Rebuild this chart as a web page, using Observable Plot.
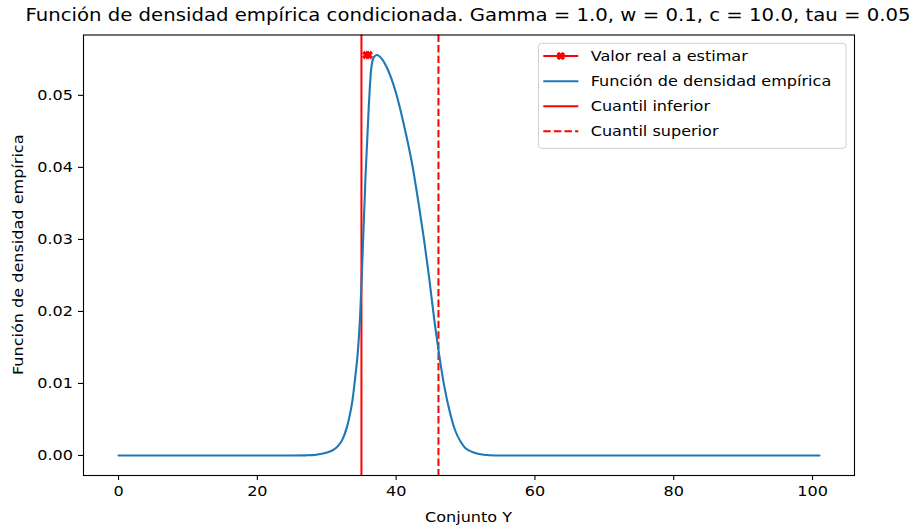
<!DOCTYPE html>
<html>
<head>
<meta charset="utf-8">
<script src="https://cdn.jsdelivr.net/npm/d3@7"></script>
<script src="https://cdn.jsdelivr.net/npm/@observablehq/plot@0.6"></script>
<style>
  body { margin: 0; background: #fff; font-family: "DejaVu Sans", sans-serif; }
  #wrap { position: relative; width: 913px; height: 531px; overflow: hidden; background: #fff; }
  #title { position: absolute; left: 467.5px; top: 0; height: 30px; line-height: 30px;
           white-space: nowrap; font-size: 17.2px; color: #000; transform-origin: 0 0; }
  #chart { position: absolute; left: 0; top: 30px; }
</style>
</head>
<body>
<div id="wrap">
  <div id="title">Función de densidad empírica condicionada. Gamma = 1.0, w = 0.1, c = 10.0, tau = 0.05</div>
  <div id="chart"></div>
</div>
<script>
// Empirical conditional density over the set Y
const setY = [0, 10, 20, 25, 27, 28, 29.1, 30, 31.0, 31.6,
  32.2, 32.9, 33.3, 33.7, 34.1, 34.5, 34.8, 35.0, 35.15, 35.6,
  36.05, 36.4, 36.8, 37.2, 38.0, 38.7, 39.9, 41.1, 42.3, 43.3,
  44.0, 44.7, 45.4, 46.2, 46.9, 47.8, 48.5, 49.3, 50.0, 50.7,
  51.5, 52.6, 53.5, 55, 60, 70, 80, 90, 101];
const density = [0, 0, 0, 0, 0.00002, 0.00005, 0.0002, 0.0004, 0.0008, 0.0013,
  0.0021, 0.0039, 0.0055, 0.0076, 0.0108, 0.0146, 0.0192, 0.0236, 0.0275, 0.0390,
  0.0483, 0.0536, 0.0553, 0.0556, 0.0550, 0.0538, 0.0506, 0.0460, 0.0405, 0.0346,
  0.0301, 0.0251, 0.0196, 0.0140, 0.0098, 0.0058, 0.0035, 0.0019, 0.0010, 0.0006,
  0.0003, 0.0001, 0.00003, 0, 0, 0, 0, 0, 0];

// True value to be estimated (drawn with "X" markers)
const realX = [35.7, 36.05];
const realY = [0.0556, 0.0556];

// Quantiles
const lowerQuantile = 35.0;
const upperQuantile = 46.1;

// Ticks
const xTicks = [0, 20, 40, 60, 80, 100];
const yTicks = [0, 0.01, 0.02, 0.03, 0.04, 0.05];

const legendLabels = ["Valor real a estimar", "Función de densidad empírica", "Cuantil inferior", "Cuantil superior"];

const blue = "#1f77b4";
const red = "#ff0000";
const FS = 14.6;       // label font size
const STRETCH = 1.1;   // horizontal text width factor

const curve = setY.map((x, i) => ({x, y: density[i]}));
const real = realX.map((x, i) => ({x, y: realY[i]}));

// Axis limits with 5% padding around the data
const xMin = d3.min(setY), xMax = d3.max(setY);
const yMin = d3.min(density), yMax = d3.max([...density, ...realY]);
const xPad = (xMax - xMin) * 0.05, yPad = (yMax - yMin) * 0.05;

// Filled "X" marker outline
const xOutline = [[-1, -2], [0, -1], [1, -2], [2, -1], [1, 0], [2, 1], [1, 2], [0, 1], [-1, 2], [-2, 1], [-1, 0], [-2, -1]];
const filledX = {
  draw(context, size) {
    const h = Math.sqrt(size / Math.PI) / 2;
    context.moveTo(xOutline[0][0] * h, xOutline[0][1] * h);
    for (let i = 1; i < xOutline.length; ++i) context.lineTo(xOutline[i][0] * h, xOutline[i][1] * h);
    context.closePath();
  }
};

const W = 913, H = 501;
const mL = 83, mR = 59, mT = 4.5, mB = 56;

const plot = Plot.plot({
  width: W,
  height: H,
  marginLeft: mL,
  marginRight: mR,
  marginTop: mT,
  marginBottom: mB,
  style: {fontFamily: "DejaVu Sans", fontSize: FS + "px", color: "#000", background: "#fff", overflow: "visible"},
  x: {domain: [xMin - xPad, xMax + xPad]},
  y: {domain: [yMin - yPad, yMax + yPad]},
  marks: [
    Plot.ruleX([lowerQuantile], {stroke: red, strokeWidth: 2}),
    Plot.ruleX([upperQuantile], {stroke: red, strokeWidth: 2, strokeDasharray: "7.4,3.2"}),
    Plot.line(real, {x: "x", y: "y", stroke: red, strokeWidth: 2}),
    Plot.dot(real, {x: "x", y: "y", symbol: filledX, r: 3.8, fill: red, stroke: red, strokeWidth: 1}),
    Plot.line(curve, {x: "x", y: "y", stroke: blue, strokeWidth: 2.1, curve: "monotone-x"}),
    Plot.frame({stroke: "#000", strokeWidth: 1.1}),
    Plot.axisX({ticks: xTicks, tickSize: 5, tickPadding: 5, label: null, fontSize: FS, stroke: "#000", strokeWidth: 1.1}),
    Plot.axisY({ticks: yTicks, tickSize: 5, tickPadding: 5.5, label: null, tickFormat: d3.format(".2f"), fontSize: FS, stroke: "#000", strokeWidth: 1.1})
  ]
});

document.getElementById("chart").appendChild(plot);

const svg = d3.select(plot);
const fx = (mL + W - mR) / 2, fy = (mT + H - mB) / 2;

// Axis titles
svg.append("text")
  .attr("x", fx).attr("y", H - 9)
  .attr("text-anchor", "middle")
  .attr("font-size", FS)
  .attr("fill", "#000")
  .text("Conjunto Y");
svg.append("text")
  .attr("transform", `translate(23,${fy}) rotate(-90)`)
  .attr("text-anchor", "middle")
  .attr("font-size", FS)
  .attr("fill", "#000")
  .text("Función de densidad empírica");

// Legend
const lg = svg.append("g").attr("transform", "translate(538.5,13.3)");
lg.append("rect")
  .attr("width", 307.5).attr("height", 105)
  .attr("rx", 3).attr("ry", 3)
  .attr("fill", "#fff").attr("fill-opacity", 0.8)
  .attr("stroke", "#d0d0d0").attr("stroke-width", 1);
const rowY = [12.7, 38, 63, 88];
legendLabels.forEach((label, i) => {
  const y = rowY[i];
  const ln = lg.append("line")
    .attr("x1", 4.8).attr("x2", 39.8).attr("y1", y).attr("y2", y)
    .attr("stroke", i === 1 ? blue : red).attr("stroke-width", 2);
  if (i === 3) ln.attr("stroke-dasharray", "7.4,3.2");
  if (i === 0) {
    const h = 3.8 / 2;
    lg.append("path")
      .attr("d", "M" + xOutline.map(p => `${22.3 + p[0] * h},${y + p[1] * h}`).join("L") + "Z")
      .attr("fill", red).attr("stroke", red).attr("stroke-width", 1);
  }
  lg.append("text")
    .attr("x", 52.2).attr("y", y)
    .attr("dy", "0.35em")
    .attr("text-anchor", "start")
    .attr("font-size", FS)
    .attr("fill", "#000")
    .text(label);
});

// Widen glyphs slightly
svg.selectAll("text").each(function () {
  const w = this.getComputedTextLength();
  if (w > 0) {
    this.setAttribute("textLength", w * STRETCH);
    this.setAttribute("lengthAdjust", "spacingAndGlyphs");
  }
});

// Title width and centring
const title = document.getElementById("title");
const tw = title.getBoundingClientRect().width;
const ts = 885 / tw;
title.style.transform = `scaleX(${ts}) translateX(-50%)`;
</script>
</body>
</html>
